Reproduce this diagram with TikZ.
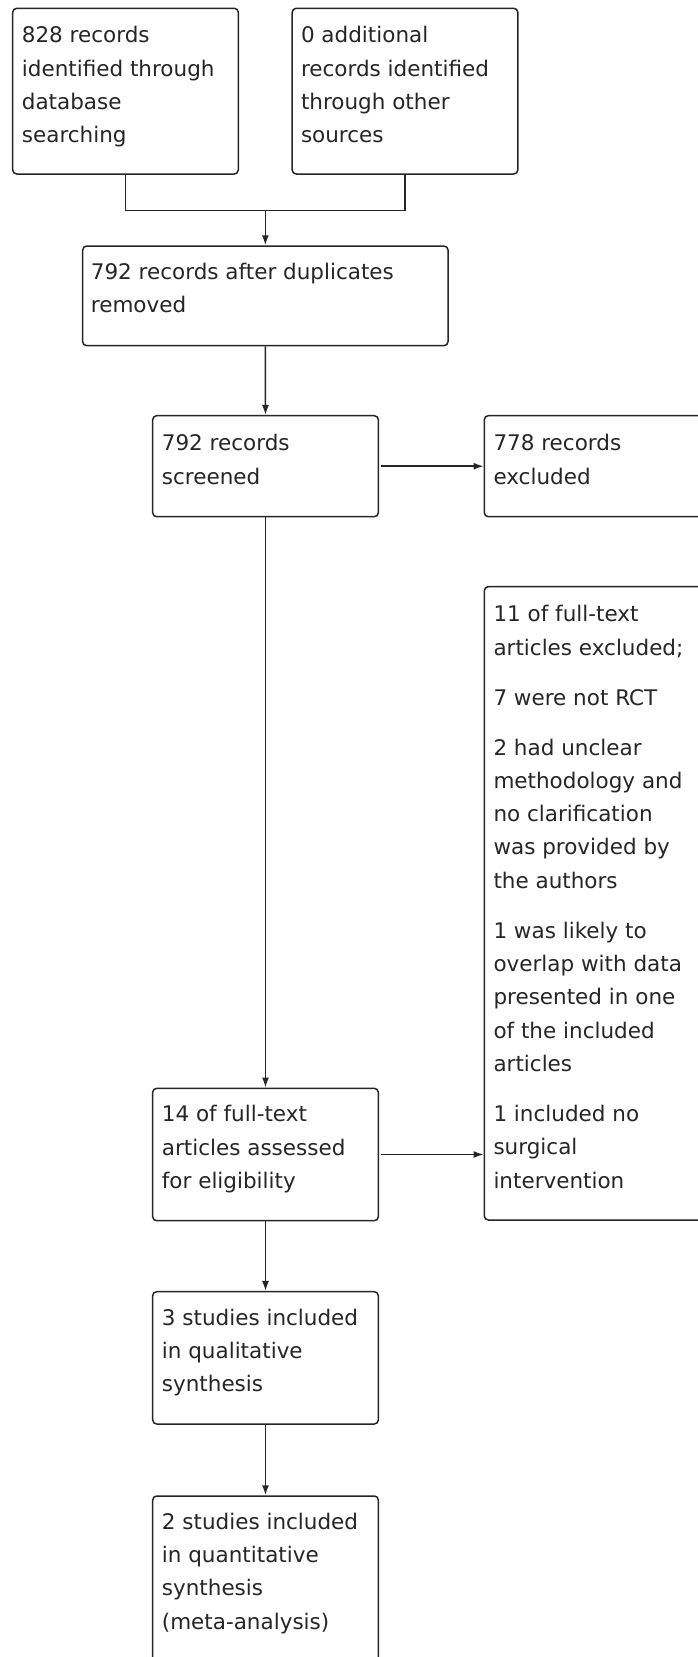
\documentclass[tikz,border=0pt]{standalone}
\usepackage{fontspec}
\setmainfont{DejaVu Sans}
\usetikzlibrary{arrows.meta}
\definecolor{ink}{HTML}{262626}
\newcommand{\boxtext}[1]{\vtop{\hsize=215pt\fontsize{21.5pt}{33.3pt}\selectfont\raggedright\noindent #1\par}}
\tikzset{
  box/.style={draw=ink, line width=1.5pt, rounded corners=4pt, inner sep=0pt, minimum width=225.6pt},
  txt/.style={anchor=base west, inner sep=0pt, text=ink},
  conn/.style={draw=ink, line width=1.5pt},
  arr/.style={conn, -{Latex[length=10pt,width=7pt]}}
}
\begin{document}
\begin{tikzpicture}[x=1pt, y=-1pt]
\clip (0,0) rectangle (698,1657);
\fill[white] (0,0) rectangle (698,1657);
% boxes
\node[box, minimum height=165.7pt] (b1) at (125.5,91.15) {};
\node[box, minimum height=165.7pt] (b2) at (405,91.15) {};
\node[box, minimum width=365.3pt, minimum height=99.7pt] (b3) at (265.35,295.85) {};
\node[box, minimum height=101pt] (b4) at (265.5,466.2) {};
\node[box, minimum height=101pt] (b5) at (597.1,466.2) {};
\node[box, minimum height=633.3pt] (b6) at (597.1,903.35) {};
\node[box, minimum height=132.4pt] (b7) at (265.5,1154.5) {};
\node[box, minimum height=132.3pt] (b8) at (265.5,1357.85) {};
\node[box, minimum height=166pt] (b9) at (265.5,1579) {};
% texts
\node[txt] (t1) at (21.7,42.7) {\boxtext{828 records\\identified through\\database\\searching}};
\node[txt] (t2) at (300.8,42.7) {\boxtext{0 additional\\records identified\\through other\\sources}};
\node[txt] (t3) at (90.7,279.3) {\hbox{\fontsize{21.5pt}{33.3pt}\selectfont\vtop{\hsize=350pt\noindent 792 records after duplicates\\removed\par}}};
\node[txt] (t4) at (161.7,450.7) {\boxtext{792 records\\screened}};
\node[txt] (t5) at (493.3,450.7) {\boxtext{778 records\\excluded}};
\node[txt] (t6) at (493.3,621.7) {\boxtext{11 of full-text\\articles excluded;\\[16.7pt]7 were not RCT\\[16.7pt]2 had unclear\\methodology and\\no clarification\\was provided by\\the authors\\[16.7pt]1 was likely to\\overlap with data\\presented in one\\of the included\\articles\\[16.7pt]1 included no\\surgical\\intervention}};
\node[txt] (t7) at (161.7,1121.7) {\boxtext{14 of full-text\\articles assessed\\for eligibility}};
\node[txt] (t8) at (161.7,1325) {\boxtext{3 studies included\\in qualitative\\synthesis}};
\node[txt] (t9) at (161.7,1529.3) {\boxtext{2 studies included\\in quantitative\\synthesis\\(meta-analysis)}};
% connectors
\coordinate (j) at (265.35,210.7);
\draw[conn] (b1.south) |- (j) -| (b2.south);
\draw[arr] (j) -- (b3.north);
\draw[arr] (b3.south) -- (b4.north);
\draw[arr, shorten <=2pt] (b4.east) -- (b5.west);
\draw[arr] (b4.south) -- (b7.north);
\draw[arr, shorten <=2pt] (b7.east) -- (b7.east -| b6.west);
\draw[arr] (b7.south) -- (b8.north);
\draw[arr] (b8.south) -- (b9.north);
\end{tikzpicture}
\end{document}
